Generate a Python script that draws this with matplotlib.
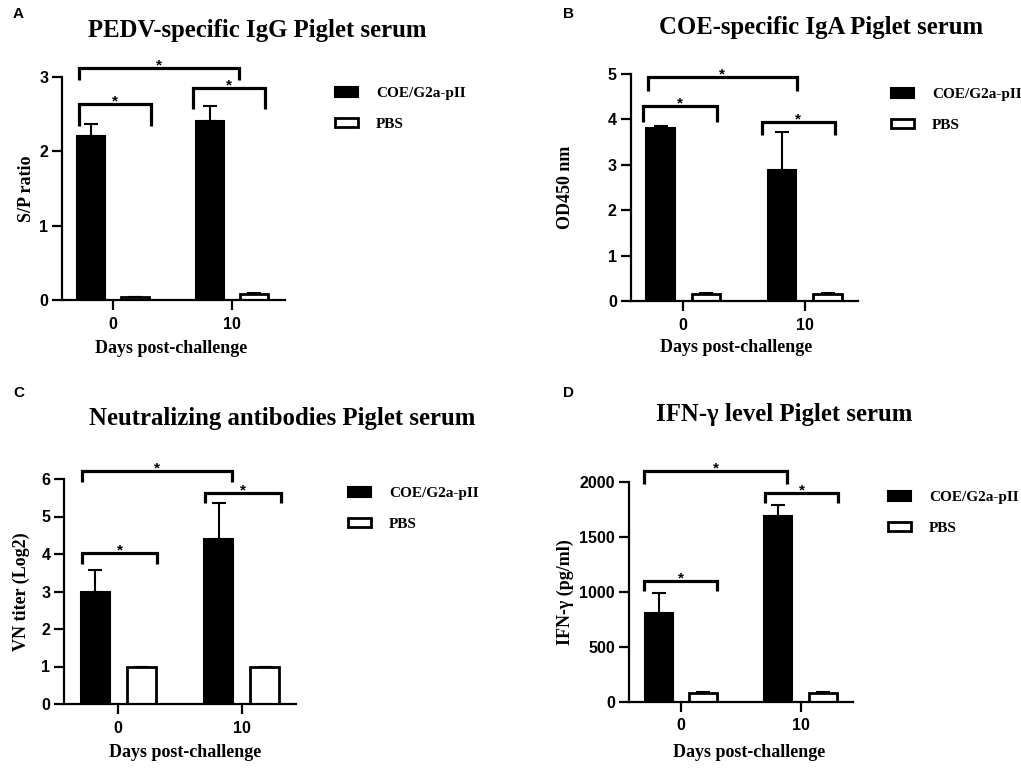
import matplotlib
matplotlib.use("Agg")
import matplotlib.pyplot as plt
import numpy as np

# ---------------- data ----------------
days = ["0", "10"]
series_names = ["COE/G2a-pII", "PBS"]

titles = ["PEDV-specific IgG Piglet serum", "COE-specific IgA Piglet serum",
          "Neutralizing antibodies Piglet serum", "IFN-\u03b3 level Piglet serum"]
ylabels = ["S/P ratio", "OD450 nm", "VN titer (Log2)", "IFN-\u03b3 (pg/ml)"]
panel_letters = ["A", "B", "C", "D"]

coe_A = [2.21, 2.41]
coe_A_err = [0.16, 0.20]
pbs_A = [0.035, 0.08]
pbs_A_err = [0.01, 0.02]

coe_B = [3.82, 2.88]
coe_B_err = [0.03, 0.85]
pbs_B = [0.15, 0.15]
pbs_B_err = [0.02, 0.02]

coe_C = [3.0, 4.4]
coe_C_err = [0.57, 0.95]
pbs_C = [1.0, 1.0]
pbs_C_err = [0.0, 0.0]

coe_D = [810, 1690]
coe_D_err = [180, 98]
pbs_D = [75, 78]
pbs_D_err = [10, 10]

yticks_A = [0, 1, 2, 3]
yticks_B = [0, 1, 2, 3, 4, 5]
yticks_C = [0, 1, 2, 3, 4, 5, 6]
yticks_D = [0, 500, 1000, 1500, 2000]

# significance brackets: (x_left, x_right, y_top, y_leg_bottom)
brackets_A = [(-0.286, 0.317, 2.64, 2.34), (-0.286, 1.059, 3.12, 2.96), (0.672, 1.277, 2.85, 2.57)]
brackets_B = [(-0.331, 0.277, 4.30, 3.95), (-0.290, 0.933, 4.93, 4.63), (0.645, 1.245, 3.95, 3.66)]
brackets_C = [(-0.297, 0.316, 4.02, 3.73), (-0.297, 0.919, 6.21, 5.91), (0.703, 1.318, 5.62, 5.35)]
brackets_D = [(-0.309, 0.301, 1100, 1006), (-0.309, 0.886, 2100, 1976), (0.702, 1.312, 1894, 1803)]

# ---------------- layout ----------------
W, H = 1021, 769
fig = plt.figure(figsize=(W / 100, H / 100), dpi=100)

SERIF = "Liberation Serif"
SANS = "Liberation Sans"

def px_rect(l, r, top, bottom):
    return [l / W, 1 - bottom / H, (r - l) / W, (bottom - top) / H]

panels = [
    dict(rect=px_rect(62, 285, 77, 300), xlim=(-0.4286, 1.445), coe=coe_A, coe_err=coe_A_err,
         pbs=pbs_A, pbs_err=pbs_A_err, yticks=yticks_A, br=brackets_A,
         ylab_x=-0.119, xlab=(0.489, -0.179),
         title=(257.5, 37), letter=(13, 18), legend=(335, 109)),
    dict(rect=px_rect(630.7, 858, 74, 301), xlim=(-0.432, 1.436), coe=coe_B, coe_err=coe_B_err,
         pbs=pbs_B, pbs_err=pbs_B_err, yticks=yticks_B, br=brackets_B,
         ylab_x=-0.2516, xlab=(0.466, -0.167),
         title=(820.8, 34.3), letter=(563.3, 18), legend=(891, 110)),
    dict(rect=px_rect(64.3, 296, 479, 704), xlim=(-0.4376, 1.44), coe=coe_C, coe_err=coe_C_err,
         pbs=pbs_C, pbs_err=pbs_C_err, yticks=yticks_C, br=brackets_C,
         ylab_x=-0.146, xlab=(0.521, -0.178),
         title=(281.7, 425), letter=(13, 396.7), legend=(348, 509)),
    dict(rect=px_rect(629, 853, 481.7, 701.7), xlim=(-0.434, 1.437), coe=coe_D, coe_err=coe_D_err,
         pbs=pbs_D, pbs_err=pbs_D_err, yticks=yticks_D, br=brackets_D,
         ylab_x=-0.246, xlab=(0.536, -0.192),
         title=(784, 421), letter=(563.3, 396.7), legend=(888, 513)),
]

x = np.arange(len(days))
off = 0.187
bw = 0.235

for i, p in enumerate(panels):
    ax = fig.add_axes(p["rect"])
    b1 = ax.bar(x - off, p["coe"], bw, color="black", edgecolor="black", linewidth=1.5,
                label=series_names[0], zorder=2)
    b2 = ax.bar(x + off, p["pbs"], bw, color="white", edgecolor="black", linewidth=2.0,
                label=series_names[1], zorder=2)
    ax.errorbar(x - off, p["coe"], yerr=[np.zeros(len(x)), p["coe_err"]], fmt="none",
                ecolor="black", elinewidth=1.5, capsize=5, capthick=1.5, zorder=1)
    ax.errorbar(x + off, p["pbs"], yerr=[np.zeros(len(x)), p["pbs_err"]], fmt="none",
                ecolor="black", elinewidth=1.5, capsize=5, capthick=1.5, zorder=1)

    ax.set_xlim(*p["xlim"])
    ax.set_ylim(p["yticks"][0], p["yticks"][-1])
    ax.set_yticks(p["yticks"])
    ax.set_xticks(x)
    ax.set_xticklabels(days)
    for s in ["top", "right"]:
        ax.spines[s].set_visible(False)
    for s in ["left", "bottom"]:
        ax.spines[s].set_linewidth(1.6)
    ax.tick_params(axis="both", width=1.6, length=7, labelsize=11.5, pad=3)
    ax.tick_params(axis="x", pad=5)
    for lab in ax.get_xticklabels() + ax.get_yticklabels():
        lab.set_fontfamily(SANS)
        lab.set_fontweight("bold")

    ax.set_ylabel(ylabels[i], fontfamily=SERIF, fontweight="bold", fontsize=13)
    ax.yaxis.set_label_coords(p["ylab_x"], 0.5)
    ax.set_xlabel("Days post-challenge", fontfamily=SERIF, fontweight="bold", fontsize=13)
    ax.xaxis.set_label_coords(*p["xlab"])

    # brackets
    for (xl, xr, yt, yb) in p["br"]:
        ax.plot([xl, xl, xr, xr], [yb, yt, yt, yb], color="black", lw=2.3,
                solid_joinstyle="miter", solid_capstyle="butt", clip_on=False)
        ax.annotate("*", xy=((xl + xr) / 2, yt), xytext=(0, -1), textcoords="offset points",
                    ha="center", va="baseline", fontsize=11, fontfamily=SANS,
                    fontweight="bold", annotation_clip=False)

    # legend
    lx, ly = p["legend"]
    ax.legend(handles=[b1, b2], labels=series_names, loc="center left",
              bbox_to_anchor=(lx / W, 1 - ly / H), bbox_transform=fig.transFigure,
              frameon=False, borderpad=0, borderaxespad=0, handlelength=1.5,
              handleheight=0.6, handletextpad=1.18, labelspacing=1.15,
              prop={"family": SERIF, "weight": "bold", "size": 11})

    tx, ty = p["title"]
    fig.text(tx / W, 1 - ty / H, titles[i], ha="center", va="baseline",
             fontfamily=SERIF, fontweight="bold", fontsize=17.8)
    lx2, ly2 = p["letter"]
    fig.text(lx2 / W, 1 - ly2 / H, panel_letters[i], ha="left", va="baseline",
             fontfamily=SANS, fontweight="bold", fontsize=11)

fig.savefig("out.png", dpi=100)
